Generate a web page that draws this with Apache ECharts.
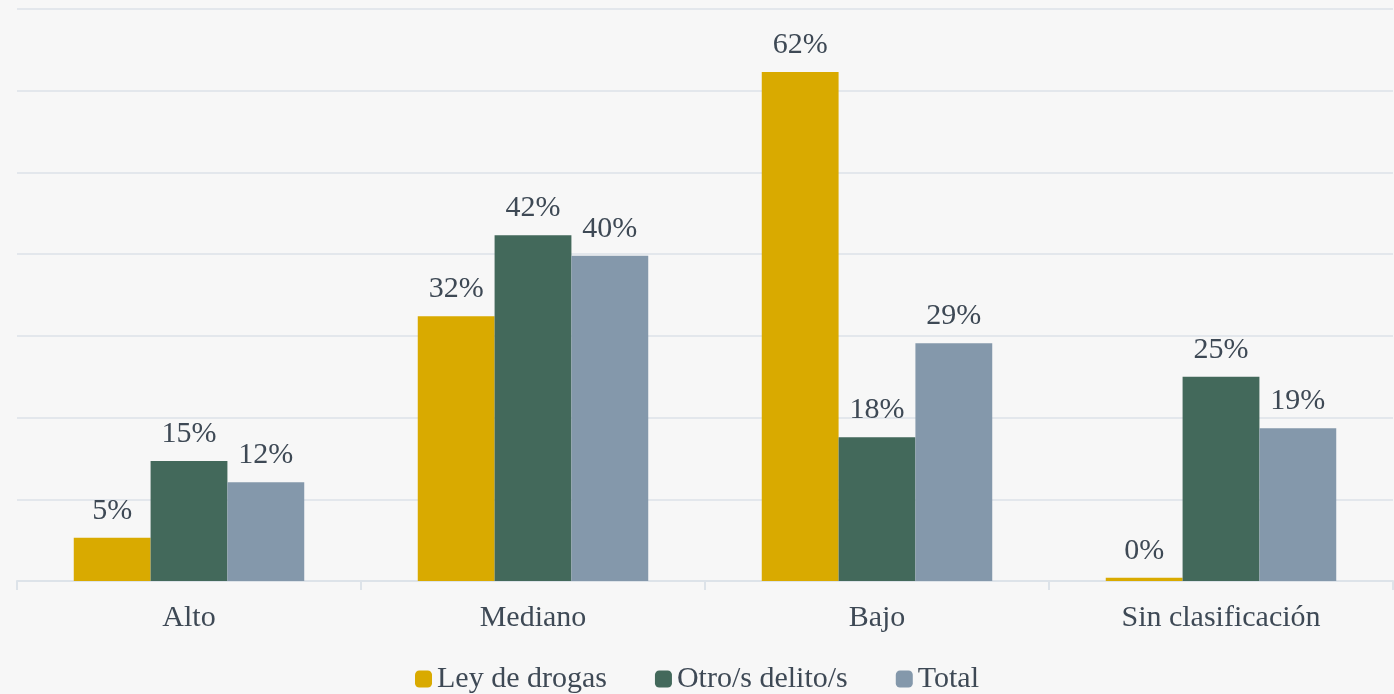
<!DOCTYPE html>
<html lang="es">
<head>
    <meta charset="UTF-8">
    <title>Chart</title>
    <style>
        html, body { margin: 0; padding: 0; background: #f7f7f7; }
    </style>
</head>
<body>
<script src="https://cdn.jsdelivr.net/npm/echarts@6/dist/echarts.min.js"></script>
<div id="main" style="width: 1394px;height:694px;"></div>

<script>
    var categories = ['Alto', 'Mediano', 'Bajo', 'Sin clasificación'];
    var seriesNames = ['Ley de drogas', 'Otro/s delito/s', 'Total'];
    var leyDrogas = [5.3, 32.4, 62.3, 0.4];
    var otrosDelitos = [14.7, 42.3, 17.6, 25.0];
    var total = [12.1, 39.8, 29.1, 18.7];
    var colors = ['#d9aa00', '#43695b', '#8498ab'];

    var font = '"Liberation Serif", "DejaVu Serif", serif';
    var textColor = '#3e4955';

    var myChart = echarts.init(document.getElementById('main'));

    function barSeries(name, data, color) {
        return {
            name: name,
            type: 'bar',
            data: data,
            barGap: '0%',
            barCategoryGap: '33%',
            itemStyle: { color: color },
            label: {
                show: true,
                position: 'top',
                distance: 12,
                fontFamily: font,
                fontSize: 30,
                color: textColor,
                formatter: function (p) {
                    return Math.round(p.value) + '%';
                }
            }
        };
    }

    var option = {
        backgroundColor: '#f7f7f7',
        animation: false,
        grid: {
            left: 17,
            right: 1,
            top: 9,
            bottom: 113,
            containLabel: false
        },
        legend: {
            data: seriesNames,
            bottom: 0,
            padding: 0,
            left: 'center',
            itemWidth: 17,
            itemHeight: 17,
            itemGap: 48,
            icon: 'roundRect',
            textStyle: {
                fontFamily: font,
                fontSize: 30,
                color: textColor
            }
        },
        xAxis: {
            type: 'category',
            data: categories,
            axisLine: { lineStyle: { color: '#dde3e9', width: 2 } },
            axisTick: { show: true, length: 9, lineStyle: { color: '#dde3e9', width: 2 } },
            axisLabel: {
                margin: 22,
                fontFamily: font,
                fontSize: 30,
                color: textColor
            }
        },
        yAxis: {
            type: 'value',
            min: 0,
            max: 70,
            interval: 10,
            axisLabel: { show: false },
            axisLine: { show: false },
            axisTick: { show: false },
            splitLine: { lineStyle: { color: '#e3e7ec', width: 2 } }
        },
        series: [
            barSeries(seriesNames[0], leyDrogas, colors[0]),
            barSeries(seriesNames[1], otrosDelitos, colors[1]),
            barSeries(seriesNames[2], total, colors[2])
        ]
    };

    myChart.setOption(option);
</script>
</body>
</html>
